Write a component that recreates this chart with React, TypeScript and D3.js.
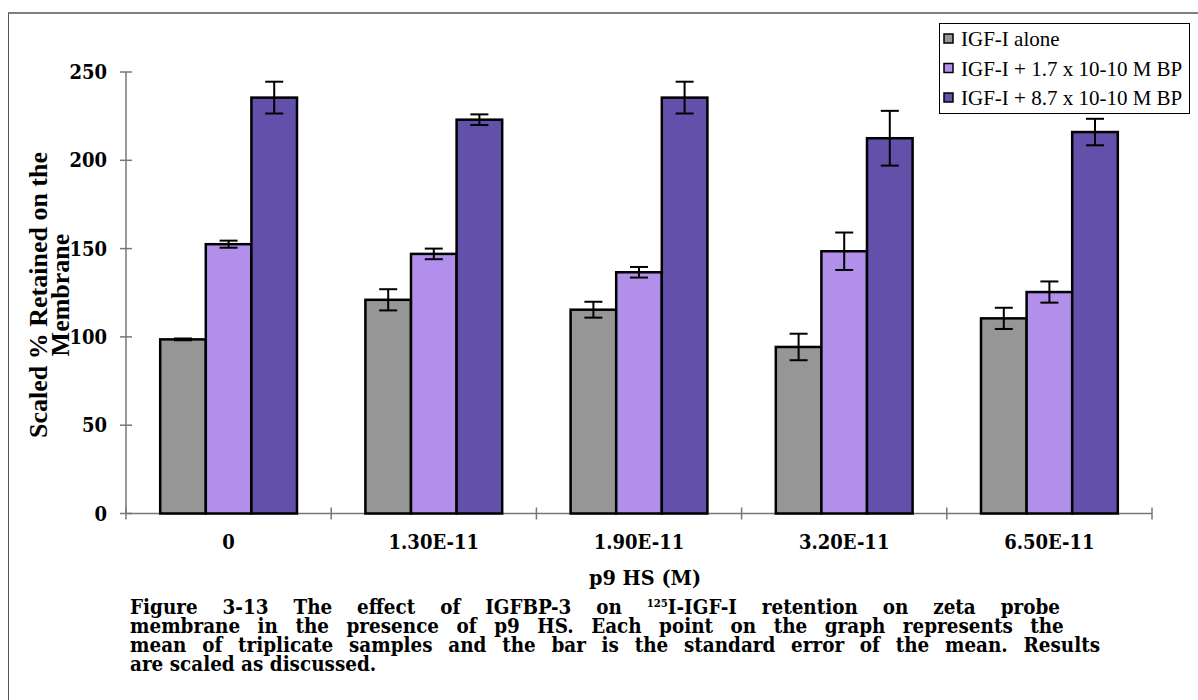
import React, { useLayoutEffect, useRef, useState } from "react";
import * as d3 from "d3";

const categories = ["0", "1.30E-11", "1.90E-11", "3.20E-11", "6.50E-11"];
const seriesNames = ["IGF-I alone", "IGF-I + 1.7 x 10-10 M BP", "IGF-I + 8.7 x 10-10 M BP"];
const seriesColors = ["#969696", "#B18FEB", "#6250AA"];
const aloneValues = [98.6, 121, 115.4, 94.3, 110.5];
const aloneErrors = [0.5, 6, 4.5, 7.5, 6];
const bp17Values = [152.5, 147, 136.6, 148.5, 125.4];
const bp17Errors = [2, 3, 3, 10.6, 6];
const bp87Values = [235.5, 223, 235.5, 212.5, 216];
const bp87Errors = [9, 3, 9, 15.5, 7.5];
const yTicks = [0, 50, 100, 150, 200, 250];

const captionLines = [
  "Figure 3-13  The effect of IGFBP-3 on ",
  "membrane in the presence  of p9 HS. Each point on the graph  represents  the",
  "mean of triplicate samples and the bar is the standard error of the mean. Results",
  "are scaled as discussed.",
];

const tickFont = "'DejaVu Serif Condensed', 'DejaVu Serif', serif";
const capFont = "'DejaVu Serif', serif";
const CAP_SCALE = 0.92;

function JustLine(props: { x: number; y: number; width: number; children: any; style?: any }) {
  const ref = useRef<SVGTextElement>(null);
  const [ws, setWs] = useState(0);
  useLayoutEffect(() => {
    const el = ref.current;
    if (!el) return;
    const natural = el.getComputedTextLength();
    const spaces = (el.textContent || "").split(" ").length - 1;
    if (spaces > 0) setWs((props.width - natural) / spaces);
  }, []);
  return (
    <text ref={ref} x={props.x} y={props.y} style={{ ...props.style, wordSpacing: ws }}>
      {props.children}
    </text>
  );
}

export default function App() {
  const W = 1198, H = 700;
  const x0 = 126, x1 = 1152, yBase = 513.5, yTop = 72;
  const x = d3.scaleBand<string>().domain(categories).range([x0, x1]).padding(0);
  const xs = d3.scaleBand<string>().domain(seriesNames).range([0, x.bandwidth()]).paddingInner(0).paddingOuter(0.75);
  const y = d3.scaleLinear().domain([0, 250]).range([yBase, yTop]);
  const vals = [aloneValues, bp17Values, bp87Values];
  const errs = [aloneErrors, bp17Errors, bp87Errors];

  const captionStyle = {
    fontFamily: capFont,
    fontWeight: 700,
    fontSize: 20,
    fill: "#000",
  };
  const tickStyle = { fontFamily: tickFont, fontWeight: 700, fontSize: 20, fontStretch: "condensed" };

  return (
    <svg width={W} height={H} style={{ position: "absolute", left: 0, top: 0, background: "#fff" }}>
      {/* frame */}
      <line x1={8} x2={W} y1={13} y2={13} stroke="#808080" strokeWidth={2} />
      <line x1={8.5} x2={8.5} y1={13} y2={H} stroke="#555" strokeWidth={1} />

      {/* y axis */}
      <line x1={x0} x2={x0} y1={y(250)} y2={yBase} stroke="#777" strokeWidth={1.5} />
      {yTicks.map((t) => (
        <g key={t}>
          <line x1={x0 - 6} x2={x0 + 6} y1={y(t)} y2={y(t)} stroke="#777" strokeWidth={1.5} />
          <text x={107} y={y(t) + 7} textAnchor="end" style={tickStyle}>
            {t}
          </text>
        </g>
      ))}

      {/* x axis */}
      <line x1={x0} x2={x1} y1={yBase} y2={yBase} stroke="#777" strokeWidth={1.5} />
      {[...categories.map((c) => x(c) as number), x1].map((v, i) => (
        <line key={i} x1={v} x2={v} y1={yBase - 6} y2={yBase + 6} stroke="#777" strokeWidth={1.5} />
      ))}
      {categories.map((c) => (
        <text key={c} x={(x(c) as number) + x.bandwidth() / 2} y={549} textAnchor="middle" style={tickStyle}>
          {c}
        </text>
      ))}

      {/* bars */}
      {seriesNames.map((s, si) =>
        categories.map((c, ci) => {
          const bx = (x(c) as number) + (xs(s) as number);
          const bw = xs.bandwidth();
          const v = vals[si][ci];
          const e = errs[si][ci];
          const cx = bx + bw / 2;
          return (
            <g key={s + c}>
              <rect x={bx} y={y(v)} width={bw} height={yBase - y(v)} fill={seriesColors[si]} stroke="#000" strokeWidth={2.5} />
              <line x1={cx} x2={cx} y1={y(v + e)} y2={y(v - e)} stroke="#000" strokeWidth={2} />
              <line x1={cx - 9} x2={cx + 9} y1={y(v + e)} y2={y(v + e)} stroke="#000" strokeWidth={2} />
              <line x1={cx - 9} x2={cx + 9} y1={y(v - e)} y2={y(v - e)} stroke="#000" strokeWidth={2} />
            </g>
          );
        })
      )}

      {/* y title */}
      <g transform="translate(47,295) rotate(-90)">
        <text textAnchor="middle" x={0} y={0} style={{ fontFamily: "'Liberation Serif', serif", fontWeight: 700, fontSize: 26 }}>
          Scaled % Retained on the
        </text>
        <text textAnchor="middle" x={0} y={22} style={{ fontFamily: "'Liberation Serif', serif", fontWeight: 700, fontSize: 26 }}>
          Membrane
        </text>
      </g>

      {/* x title */}
      <g transform={`translate(645,585) scale(${CAP_SCALE},1)`}>
        <text x={0} y={0} textAnchor="middle" style={{ ...captionStyle, fontSize: 21 }}>
          p9 HS (M)
        </text>
      </g>

      {/* legend */}
      <rect x={939.5} y={23.5} width={250} height={90} fill="#fff" stroke="#000" strokeWidth={1} />
      {seriesNames.map((s, i) => (
        <g key={s}>
          <rect x={944} y={34 + i * 29.5} width={9} height={9} fill={seriesColors[i]} stroke="#000" strokeWidth={1.5} />
          <text x={961} y={46 + i * 29.5} style={{ fontFamily: "'Liberation Serif', serif", fontSize: 21 }}>
            {s}
          </text>
        </g>
      ))}

      {/* caption */}
      <g transform={`translate(130,0) scale(${CAP_SCALE},1)`}>
        <JustLine x={0} y={614} width={967 / CAP_SCALE} style={captionStyle}>
          {captionLines[0]}
          <tspan style={{ fontSize: 11 }} dy={-7}>125</tspan>
          <tspan dy={7}>I-IGF-I retention  on zeta probe</tspan>
        </JustLine>
        <JustLine x={0} y={633} width={967 / CAP_SCALE} style={captionStyle}>
          {captionLines[1]}
        </JustLine>
        <JustLine x={0} y={652} width={970 / CAP_SCALE} style={captionStyle}>
          {captionLines[2]}
        </JustLine>
        <text x={0} y={671} style={captionStyle}>
          {captionLines[3]}
        </text>
      </g>
    </svg>
  );
}
